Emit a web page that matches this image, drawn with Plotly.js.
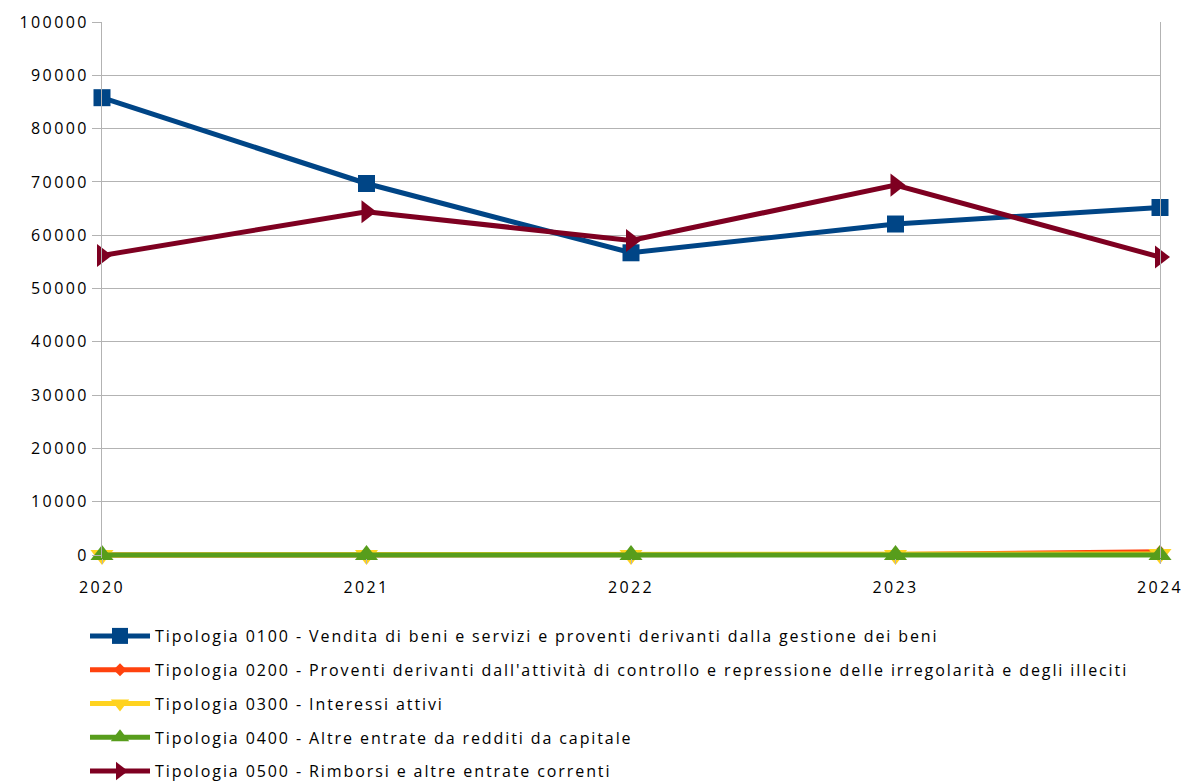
<!DOCTYPE html>
<html><head><meta charset="utf-8">
<script src="https://cdn.plot.ly/plotly-3.0.1.min.js"></script>
<style>html,body{margin:0;padding:0;background:#fff}#chart{width:1184px;height:782px}
#chart .xtick text, #chart .ytick text{letter-spacing:2.4px}
#chart .legendtext{letter-spacing:1.9px}
</style>
</head><body><div id="chart"></div>
<script>
const years = [2020, 2021, 2022, 2023, 2024];
const seriesNames = [
  "Tipologia 0100 - Vendita di beni e servizi e proventi derivanti dalla gestione dei beni",
  "Tipologia 0200 - Proventi derivanti dall'attività di controllo e repressione delle irregolarità e degli illeciti",
  "Tipologia 0300 - Interessi attivi",
  "Tipologia 0400 - Altre entrate da redditi da capitale",
  "Tipologia 0500 - Rimborsi e altre entrate correnti"
];
const t0100 = [85800, 69700, 56700, 62100, 65200];
const t0200 = [0, 0, 0, 100, 600];
const t0300 = [0, 0, 0, 0, 200];
const t0400 = [0, 0, 0, 0, 0];
const t0500 = [56200, 64400, 59000, 69400, 55900];
const yTicks = [0,10000,20000,30000,40000,50000,60000,70000,80000,90000,100000];

const colors = ["#004586", "#ff420e", "#ffd320", "#579d1c", "#7e0021"];
const symbols = ["square", "diamond", "triangle-down", "triangle-up", "triangle-right"];
const sizes = [17, 10, 20, 20, 20];
const data = [t0100, t0200, t0300, t0400, t0500].map((v, i) => ({
  x: years, y: v, name: seriesNames[i], type: "scatter", mode: "lines+markers",
  line: {color: colors[i], width: 5},
  marker: {symbol: symbols[i], size: sizes[i], color: colors[i]},
  legendgroup: "g" + i, cliponaxis: false
}));

const layout = {
  width: 1184, height: 782,
  margin: {l: 102, r: 24, t: 22, b: 224, autoexpand: false},
  paper_bgcolor: "#fff", plot_bgcolor: "#fff",
  font: {family: "Open Sans, sans-serif", size: 16, color: "#000"},
  showlegend: true,
  xaxis: {
    range: [2020, 2024], tickvals: years, ticktext: years.map(String),
    showgrid: false, zeroline: false, showline: false,
    ticks: "outside", ticklen: 5, tickcolor: "#b3b3b3",
    ticklabelstandoff: 10, tickfont: {size: 16}
  },
  yaxis: {
    range: [-563, 100000], tickvals: yTicks, ticktext: yTicks.map(String),
    showgrid: true, gridcolor: "#b3b3b3", gridwidth: 1, zeroline: false,
    showline: true, mirror: true, linecolor: "#b3b3b3", linewidth: 1,
    ticks: "outside", ticklen: 9, tickcolor: "#b3b3b3",
    tickfont: {size: 16}
  },
  legend: {
    orientation: "v", xref: "container", yref: "container",
    x: 85 / 1184, xanchor: "left", y: 1 - 619 / 782, yanchor: "top",
    traceorder: "grouped", tracegroupgap: 10, itemwidth: 60,
    font: {size: 16}, bgcolor: "rgba(0,0,0,0)"
  }
};
Plotly.newPlot("chart", data, layout, {displayModeBar: false}).then(gd => {
  gd.querySelectorAll(".legend [clip-path]").forEach(el => el.removeAttribute("clip-path"));
});
</script></body></html>
